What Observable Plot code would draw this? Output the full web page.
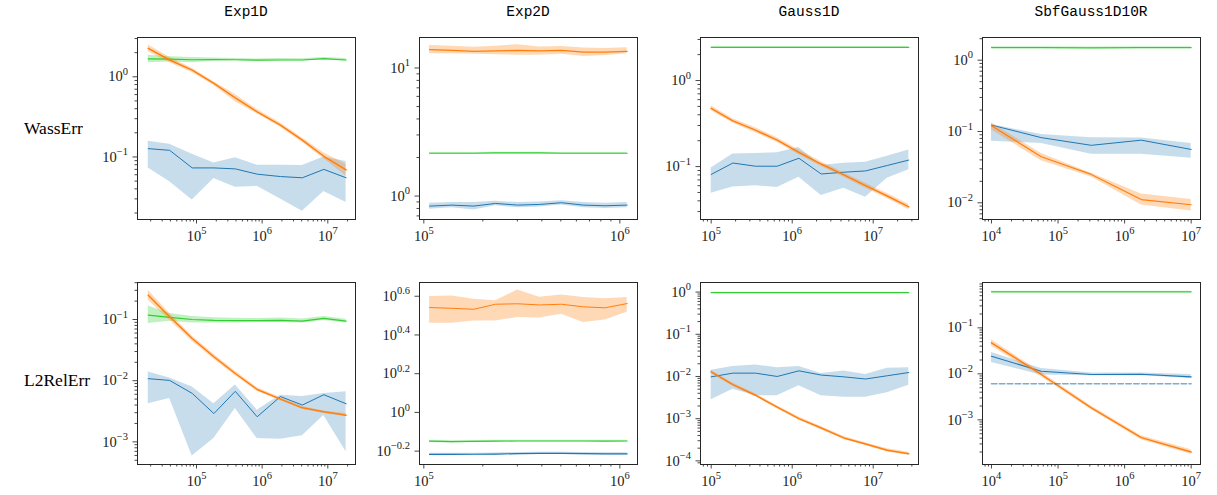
<!DOCTYPE html>
<html><head><meta charset="utf-8">
<script src="https://cdn.jsdelivr.net/npm/d3@7"></script>
<script src="https://cdn.jsdelivr.net/npm/@observablehq/plot@0.6"></script>
<style>
body{margin:0;background:#fff;}
#root{position:relative;width:1217px;height:495px;overflow:hidden;background:#fff;}
.title{position:absolute;font-family:"Liberation Mono",monospace;font-size:14.5px;color:#000;text-align:center;width:218px;line-height:18px;}
.rowlab{position:absolute;font-family:"Liberation Serif",serif;font-size:17.5px;color:#000;line-height:22px;}
.panel{position:absolute;}
</style></head><body><div id="root"></div>
<script>
// ---------- column titles / row labels ----------
const titles = ["Exp1D", "Exp2D", "Gauss1D", "SbfGauss1D10R"];
const rowLabels = ["WassErr", "L2RelErr"];

// ---------- x grids (sample sizes) ----------
const xExp1D = [1.84e4, 3.9e4, 8.6e4, 1.84e5, 3.9e5, 8.4e5, 1.9e6, 4.1e6, 8.7e6, 1.9e7];
const xExp2D = [1.07e5, 1.39e5, 1.80e5, 2.32e5, 3.01e5, 3.89e5, 5.04e5, 6.52e5, 8.41e5, 1.09e6];
const xGauss1D = [1.0e5, 1.85e5, 3.52e5, 6.53e5, 1.21e6, 2.28e6, 4.34e6, 8.04e6, 1.49e7, 2.75e7];
const xSbf = [1e4, 5.6e4, 3.16e5, 1.78e6, 1e7];

// ---------- Exp1D / WassErr ----------
const e1wBlue   = [0.127, 0.121, 0.073, 0.073, 0.071, 0.061, 0.057, 0.055, 0.070, 0.055];
const e1wBlueLo = [0.073, 0.049, 0.029, 0.054, 0.042, 0.043, 0.030, 0.021, 0.037, 0.027];
const e1wBlueHi = [0.157, 0.144, 0.108, 0.084, 0.098, 0.079, 0.079, 0.078, 0.100, 0.088];
const e1wOrange   = [2.26, 1.62, 1.21, 0.825, 0.546, 0.365, 0.249, 0.162, 0.102, 0.069];
const e1wOrangeLo = [2.05, 1.50, 1.13, 0.78, 0.49, 0.345, 0.235, 0.152, 0.095, 0.058];
const e1wOrangeHi = [2.50, 1.75, 1.28, 0.87, 0.60, 0.39, 0.265, 0.172, 0.112, 0.081];
const e1wGreen   = [1.67, 1.66, 1.63, 1.64, 1.63, 1.61, 1.62, 1.62, 1.68, 1.62];
const e1wGreenLo = [1.50, 1.53, 1.50, 1.57, 1.58, 1.56, 1.57, 1.57, 1.62, 1.56];
const e1wGreenHi = [1.86, 1.78, 1.74, 1.72, 1.69, 1.67, 1.69, 1.68, 1.74, 1.69];

// ---------- Exp2D / WassErr ----------
const e2wBlue   = [0.835, 0.850, 0.835, 0.876, 0.850, 0.860, 0.887, 0.850, 0.840, 0.850];
const e2wBlueLo = [0.790, 0.810, 0.780, 0.840, 0.810, 0.820, 0.850, 0.810, 0.800, 0.810];
const e2wBlueHi = [0.880, 0.890, 0.890, 0.910, 0.890, 0.900, 0.920, 0.890, 0.880, 0.890];
const e2wOrange   = [13.9, 13.7, 13.5, 13.6, 13.7, 13.6, 13.7, 13.3, 13.3, 13.5];
const e2wOrangeLo = [12.9, 12.9, 12.8, 12.7, 12.6, 12.6, 12.8, 12.3, 12.5, 12.9];
const e2wOrangeHi = [15.0, 14.8, 14.5, 14.8, 15.2, 14.6, 14.7, 14.3, 14.2, 14.4];
const e2wGreen   = [2.16, 2.16, 2.16, 2.17, 2.17, 2.17, 2.16, 2.16, 2.16, 2.16];
const e2wGreenLo = [2.13, 2.13, 2.13, 2.14, 2.14, 2.14, 2.13, 2.13, 2.13, 2.13];
const e2wGreenHi = [2.19, 2.19, 2.19, 2.20, 2.20, 2.20, 2.19, 2.19, 2.19, 2.19];

// ---------- Gauss1D / WassErr ----------
const g1wBlue   = [0.081, 0.110, 0.101, 0.101, 0.125, 0.082, 0.086, 0.089, 0.103, 0.119];
const g1wBlueLo = [0.049, 0.058, 0.060, 0.057, 0.075, 0.046, 0.056, 0.044, 0.073, 0.092];
const g1wBlueHi = [0.096, 0.140, 0.142, 0.145, 0.167, 0.103, 0.109, 0.112, 0.132, 0.156];
const g1wOrange   = [0.475, 0.34, 0.265, 0.203, 0.146, 0.107, 0.080, 0.060, 0.0455, 0.034];
const g1wOrangeLo = [0.445, 0.32, 0.248, 0.190, 0.137, 0.100, 0.075, 0.056, 0.0425, 0.0315];
const g1wOrangeHi = [0.510, 0.36, 0.282, 0.216, 0.156, 0.114, 0.085, 0.064, 0.0485, 0.0365];
const g1wGreen   = [2.43, 2.43, 2.43, 2.43, 2.43, 2.43, 2.43, 2.43, 2.43, 2.43];
const g1wGreenLo = [2.39, 2.39, 2.39, 2.39, 2.39, 2.39, 2.39, 2.39, 2.39, 2.39];
const g1wGreenHi = [2.47, 2.47, 2.47, 2.47, 2.47, 2.47, 2.47, 2.47, 2.47, 2.47];

// ---------- SbfGauss1D10R / WassErr ----------
const sbwBlue   = [0.123, 0.082, 0.064, 0.0756, 0.056];
const sbwBlueLo = [0.073, 0.068, 0.048, 0.048, 0.042];
const sbwBlueHi = [0.125, 0.091, 0.082, 0.081, 0.068];
const sbwOrange   = [0.120, 0.0442, 0.025, 0.0111, 0.0094];
const sbwOrangeLo = [0.105, 0.039, 0.023, 0.0093, 0.0077];
const sbwOrangeHi = [0.133, 0.049, 0.026, 0.0133, 0.0111];
const sbwGreen   = [1.50, 1.50, 1.49, 1.50, 1.50];
const sbwGreenLo = [1.46, 1.46, 1.45, 1.46, 1.46];
const sbwGreenHi = [1.54, 1.54, 1.53, 1.54, 1.54];

// ---------- Exp1D / L2RelErr ----------
const e1lBlue   = [0.0108, 0.0101, 0.0062, 0.0029, 0.0067, 0.00257, 0.0055, 0.0040, 0.0059, 0.0042];
const e1lBlueLo = [0.0042, 0.0051, 0.00059, 0.00113, 0.0035, 0.00113, 0.0011, 0.00126, 0.0027, 0.00069];
const e1lBlueHi = [0.0139, 0.0111, 0.0079, 0.0042, 0.0085, 0.0033, 0.0058, 0.0055, 0.0062, 0.0066];
const e1lOrange   = [0.25, 0.111, 0.049, 0.0246, 0.0131, 0.00718, 0.0050, 0.0036, 0.0031, 0.00273];
const e1lOrangeLo = [0.207, 0.097, 0.044, 0.0225, 0.0120, 0.0067, 0.0047, 0.0034, 0.0029, 0.0026];
const e1lOrangeHi = [0.30, 0.125, 0.054, 0.027, 0.0142, 0.0077, 0.0053, 0.0038, 0.0032, 0.0029];
const e1lGreen   = [0.118, 0.108, 0.100, 0.097, 0.096, 0.096, 0.097, 0.094, 0.104, 0.094];
const e1lGreenLo = [0.086, 0.094, 0.088, 0.088, 0.088, 0.089, 0.089, 0.088, 0.096, 0.088];
const e1lGreenHi = [0.167, 0.125, 0.112, 0.107, 0.105, 0.104, 0.106, 0.102, 0.112, 0.101];

// ---------- Exp2D / L2RelErr ----------
const e2lBlue   = [0.607, 0.607, 0.608, 0.609, 0.613, 0.615, 0.615, 0.613, 0.611, 0.611];
const e2lBlueLo = [0.598, 0.599, 0.600, 0.601, 0.605, 0.607, 0.607, 0.605, 0.603, 0.603];
const e2lBlueHi = [0.616, 0.615, 0.616, 0.618, 0.621, 0.623, 0.623, 0.621, 0.619, 0.619];
const e2lOrange   = [3.48, 3.45, 3.41, 3.62, 3.64, 3.59, 3.62, 3.51, 3.47, 3.65];
const e2lOrangeLo = [2.89, 2.89, 2.97, 2.97, 3.09, 3.07, 3.21, 2.91, 3.00, 3.29];
const e2lOrangeHi = [3.97, 3.99, 3.84, 3.77, 4.29, 3.93, 4.04, 3.92, 3.86, 3.92];
const e2lGreen   = [0.710, 0.706, 0.709, 0.711, 0.712, 0.712, 0.712, 0.712, 0.711, 0.712];
const e2lGreenLo = [0.700, 0.696, 0.701, 0.704, 0.705, 0.705, 0.705, 0.705, 0.704, 0.705];
const e2lGreenHi = [0.718, 0.714, 0.716, 0.718, 0.719, 0.719, 0.719, 0.719, 0.718, 0.719];

// ---------- Gauss1D / L2RelErr ----------
const g1lBlue   = [0.0098, 0.0120, 0.0120, 0.0100, 0.0136, 0.0108, 0.0098, 0.0087, 0.0104, 0.0124];
const g1lBlueLo = [0.0028, 0.0050, 0.0035, 0.0035, 0.0060, 0.0035, 0.0032, 0.0032, 0.0041, 0.0062];
const g1lBlueHi = [0.0141, 0.0172, 0.0188, 0.0160, 0.0172, 0.0118, 0.0135, 0.0112, 0.0157, 0.0160];
const g1lOrange   = [0.0129, 0.0064, 0.0036, 0.00187, 0.00100, 0.00060, 0.00035, 0.00025, 0.000178, 0.000148];
const g1lOrangeLo = [0.0118, 0.0059, 0.0033, 0.00172, 0.00092, 0.00055, 0.00032, 0.00023, 0.000163, 0.000136];
const g1lOrangeHi = [0.0141, 0.0070, 0.0039, 0.00203, 0.00109, 0.00065, 0.00038, 0.00027, 0.000193, 0.000161];
const g1lGreen   = [0.97, 0.97, 0.97, 0.97, 0.97, 0.97, 0.97, 0.97, 0.97, 0.97];
const g1lGreenLo = [0.945, 0.945, 0.945, 0.945, 0.945, 0.945, 0.945, 0.945, 0.945, 0.945];
const g1lGreenHi = [0.995, 0.995, 0.995, 0.995, 0.995, 0.995, 0.995, 0.995, 0.995, 0.995];

// ---------- SbfGauss1D10R / L2RelErr ----------
const sblBlue   = [0.0242, 0.0114, 0.0097, 0.0098, 0.0086];
const sblBlueLo = [0.0176, 0.0094, 0.0091, 0.0091, 0.0079];
const sblBlueHi = [0.0290, 0.0130, 0.0105, 0.0105, 0.0097];
const sblOrange   = [0.0472, 0.0097, 0.00182, 0.00041, 0.00020];
const sblOrangeLo = [0.0400, 0.0087, 0.00165, 0.00037, 0.00018];
const sblOrangeHi = [0.0550, 0.0108, 0.00200, 0.00045, 0.000225];
const sblGreen   = [0.607, 0.607, 0.607, 0.607, 0.607];
const sblGreenLo = [0.590, 0.590, 0.590, 0.590, 0.590];
const sblGreenHi = [0.625, 0.625, 0.625, 0.625, 0.625];
const sblReference = 0.00607;   // dashed reference level

// ---------- layout ----------
const COLS = [137, 419, 700, 982];
const ROWS = [37, 282];
const FW = 218, FH = 182;
const ML = 62, MR = 12, MT = 8, MB = 34;
const BLUE = "#1f77b4", ORANGE = "#ff7f0e", GREEN = "#32cd32";

function minorTicks(lo, hi) {
  const out = [];
  for (let k = Math.floor(lo) - 1; k <= Math.ceil(hi); k++)
    for (let m = 2; m <= 9; m++) {
      const v = m * Math.pow(10, k), l = Math.log10(v);
      if (l >= lo && l <= hi) out.push(v);
    }
  return out;
}
function majorTicks(lo, hi) {
  const out = [];
  for (let k = Math.ceil(lo); k <= Math.floor(hi); k++) out.push(Math.pow(10, k));
  return out;
}
function fmt(v) {
  const e = Math.round(Math.log10(v) * 10) / 10;
  return "10|" + (e < 0 ? "\u2212" + Math.abs(e) : String(e));
}
function rows(x, m, lo, hi) { return x.map((xv, i) => ({x: xv, y: m[i], lo: lo[i], hi: hi[i]})); }

function supers(svg) {
  svg.querySelectorAll("text").forEach(t => {
    const s = t.textContent;
    if (!s.includes("|")) return;
    const [b, e] = s.split("|");
    while (t.firstChild) t.removeChild(t.firstChild);
    t.appendChild(document.createTextNode(b));
    const ts = document.createElementNS("http://www.w3.org/2000/svg", "tspan");
    ts.setAttribute("font-size", "10.5px");
    ts.setAttribute("dy", "-6.5");
    ts.textContent = e;
    t.appendChild(ts);
  });
}

const root = document.getElementById("root");

function panel(p) {
  const [xl, xh] = p.xdom, [yl, yh] = p.ydom;
  const marks = [];
  for (const s of p.series) {
    const d = rows(p.x, s.m, s.lo, s.hi);
    marks.push(Plot.areaY(d, {x: "x", y1: "lo", y2: "hi", fill: s.color, fillOpacity: s.op}));
    marks.push(Plot.lineY(d, {x: "x", y: "y", stroke: s.color, strokeWidth: s.w}));
  }
  if (p.ref != null) {
    marks.push(Plot.lineY(p.x, {x: d => d, y: () => p.ref, stroke: BLUE, strokeOpacity: 0.6,
      strokeWidth: 1.5, strokeDasharray: "5.5,2.4"}));
  }
  const yMaj = p.yMajor || majorTicks(yl, yh);
  const yMin = p.yMajor ? [] : minorTicks(yl, yh);
  marks.push(
    Plot.axisX({ticks: minorTicks(xl, xh), tickSize: 2.5, tickFormat: () => "", label: null, strokeWidth: 0.8}),
    Plot.axisX({ticks: majorTicks(xl, xh), tickSize: 4.5, tickPadding: 6.5, tickFormat: fmt, label: null, strokeWidth: 0.8}),
    Plot.axisY({ticks: yMaj, tickSize: 4.5, tickPadding: 5, tickFormat: fmt, label: null, strokeWidth: 0.8}),
    Plot.frame({stroke: "#262626", strokeWidth: 1})
  );
  if (yMin.length) marks.push(Plot.axisY({ticks: yMin, tickSize: 2.5, tickFormat: () => "", label: null, strokeWidth: 0.8}));
  const svg = Plot.plot({
    width: FW + ML + MR, height: FH + MT + MB,
    marginLeft: ML, marginRight: MR, marginTop: MT, marginBottom: MB,
    x: {type: "log", domain: [Math.pow(10, xl), Math.pow(10, xh)]},
    y: {type: "log", domain: [Math.pow(10, yl), Math.pow(10, yh)]},
    style: {fontFamily: "'Liberation Serif', serif", fontSize: "14.5px", color: "#1a1a1a", background: "transparent"},
    marks
  });
  supers(svg);
  const wrap = document.createElement("div");
  wrap.className = "panel";
  wrap.style.left = (COLS[p.col] - ML) + "px";
  wrap.style.top = (ROWS[p.row] - MT) + "px";
  wrap.appendChild(svg);
  root.appendChild(wrap);
}

const S = (m, lo, hi, color, w, op) => ({m, lo, hi, color, w, op});

// Row 1: WassErr
panel({col: 0, row: 0, x: xExp1D, xdom: [4.101, 7.422], ydom: [-1.78, 0.49], series: [
  S(e1wBlue, e1wBlueLo, e1wBlueHi, BLUE, 1, 0.25),
  S(e1wGreen, e1wGreenLo, e1wGreenHi, GREEN, 1.2, 0.3),
  S(e1wOrange, e1wOrangeLo, e1wOrangeHi, ORANGE, 1.5, 0.3)]});
panel({col: 1, row: 0, x: xExp2D, xdom: [4.978, 6.09], ydom: [-0.183, 1.238], series: [
  S(e2wBlue, e2wBlueLo, e2wBlueHi, BLUE, 1, 0.25),
  S(e2wGreen, e2wGreenLo, e2wGreenHi, GREEN, 1.2, 0.3),
  S(e2wOrange, e2wOrangeLo, e2wOrangeHi, ORANGE, 1.2, 0.3)]});
panel({col: 2, row: 0, x: xGauss1D, xdom: [4.868, 7.559], ydom: [-1.615, 0.5], series: [
  S(g1wBlue, g1wBlueLo, g1wBlueHi, BLUE, 1, 0.25),
  S(g1wGreen, g1wGreenLo, g1wGreenHi, GREEN, 1.2, 0.3),
  S(g1wOrange, g1wOrangeLo, g1wOrangeHi, ORANGE, 1.5, 0.3)]});
panel({col: 3, row: 0, x: xSbf, xdom: [3.865, 7.14], ydom: [-2.234, 0.318], series: [
  S(sbwBlue, sbwBlueLo, sbwBlueHi, BLUE, 1, 0.25),
  S(sbwGreen, sbwGreenLo, sbwGreenHi, GREEN, 1.2, 0.3),
  S(sbwOrange, sbwOrangeLo, sbwOrangeHi, ORANGE, 1.2, 0.3)]});

// Row 2: L2RelErr
panel({col: 0, row: 1, x: xExp1D, xdom: [4.101, 7.422], ydom: [-3.37, -0.395], series: [
  S(e1lBlue, e1lBlueLo, e1lBlueHi, BLUE, 1, 0.25),
  S(e1lGreen, e1lGreenLo, e1lGreenHi, GREEN, 1.2, 0.3),
  S(e1lOrange, e1lOrangeLo, e1lOrangeHi, ORANGE, 1.5, 0.3)]});
panel({col: 1, row: 1, x: xExp2D, xdom: [4.978, 6.09], ydom: [-0.269, 0.671],
  yMajor: [Math.pow(10, -0.2), 1, Math.pow(10, 0.2), Math.pow(10, 0.4), Math.pow(10, 0.6)], series: [
  S(e2lBlue, e2lBlueLo, e2lBlueHi, BLUE, 1.2, 0.25),
  S(e2lGreen, e2lGreenLo, e2lGreenHi, GREEN, 1.2, 0.3),
  S(e2lOrange, e2lOrangeLo, e2lOrangeHi, ORANGE, 1, 0.3)]});
panel({col: 2, row: 1, x: xGauss1D, xdom: [4.868, 7.559], ydom: [-4.086, 0.227], series: [
  S(g1lBlue, g1lBlueLo, g1lBlueHi, BLUE, 1, 0.25),
  S(g1lGreen, g1lGreenLo, g1lGreenHi, GREEN, 1.2, 0.3),
  S(g1lOrange, g1lOrangeLo, g1lOrangeHi, ORANGE, 1.5, 0.3)]});
panel({col: 3, row: 1, x: xSbf, xdom: [3.865, 7.14], ydom: [-3.97, -0.0145], ref: sblReference, series: [
  S(sblBlue, sblBlueLo, sblBlueHi, BLUE, 1.1, 0.25),
  S(sblGreen, sblGreenLo, sblGreenHi, GREEN, 1.2, 0.3),
  S(sblOrange, sblOrangeLo, sblOrangeHi, ORANGE, 1.4, 0.3)]});

// titles and row labels
titles.forEach((t, i) => {
  const d = document.createElement("div");
  d.className = "title";
  d.textContent = t;
  d.style.left = COLS[i] + "px";
  d.style.top = "3px";
  root.appendChild(d);
});
rowLabels.forEach((t, i) => {
  const d = document.createElement("div");
  d.className = "rowlab";
  d.textContent = t;
  d.style.left = "24px";
  d.style.top = (i === 0 ? 117 : 369) + "px";
  root.appendChild(d);
});
</script></body></html>
